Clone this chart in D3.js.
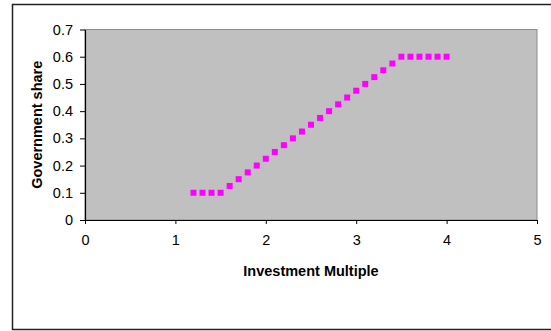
<!DOCTYPE html>
<html><head><meta charset="utf-8">
<script src="https://cdn.jsdelivr.net/npm/d3@7"></script>
<style>body{margin:0;background:#fff;overflow:hidden}svg{display:block}</style>
</head><body>
<script>
const xValues = [1.2,1.3,1.4,1.5,1.6,1.7,1.8,1.9,2.0,2.1,2.2,2.3,2.4,2.5,2.6,2.7,2.8,2.9,3.0,3.1,3.2,3.3,3.4,3.5,3.6,3.7,3.8,3.9,4.0];
const govShare = [0.1,0.1,0.1,0.1,0.125,0.15,0.175,0.2,0.225,0.25,0.275,0.3,0.325,0.35,0.375,0.4,0.425,0.45,0.475,0.5,0.525,0.55,0.575,0.6,0.6,0.6,0.6,0.6,0.6];
const xTicks = [0,1,2,3,4,5];
const yTicks = [0,0.1,0.2,0.3,0.4,0.5,0.6,0.7];
const xTitle = "Investment Multiple";
const yTitle = "Government share";

const W = 551, H = 331;
const svg = d3.select("body").append("svg").attr("width", W).attr("height", H);
const font = "'Liberation Sans', Arial, sans-serif";
const fs = 14.5;

// outer chart border (right edge lies outside the visible area)
svg.append("rect").attr("x", 12.5).attr("y", 4.5).attr("width", 600).attr("height", 325)
  .attr("fill", "#fff").attr("stroke", "#222").attr("stroke-width", 1.5);

const L = 85, R = 537, T = 29.5, B = 220;
const x = d3.scaleLinear().domain([0,5]).range([L,R]);
const y = d3.scaleLinear().domain([0,0.7]).range([B,T]);

svg.append("rect").attr("x", L).attr("y", T).attr("width", R-L).attr("height", B-T)
  .attr("fill", "#c0c0c0").attr("stroke", "#8c8c8c").attr("stroke-width", 1);

const xAxis = svg.append("g").attr("transform", `translate(0,${B})`)
  .call(d3.axisBottom(x).tickValues(xTicks).tickFormat(d3.format("d")).tickSizeInner(4).tickSizeOuter(0).tickPadding(11));
const yAxis = svg.append("g").attr("transform", `translate(${L},0)`)
  .call(d3.axisLeft(y).tickValues(yTicks).tickFormat(d => d === 0 ? "0" : d3.format(".1f")(d)).tickSizeInner(5).tickSizeOuter(0).tickPadding(7));
[xAxis, yAxis].forEach(g => {
  g.selectAll("path").attr("stroke", "#000").attr("stroke-width", 1.2);
  g.selectAll("line").attr("stroke", "#000");
  g.selectAll("text").attr("font-family", font).attr("font-size", fs).attr("fill", "#000");
});

svg.append("g").selectAll("rect").data(xValues).join("rect")
  .attr("x", (d,i) => x(d) - 3).attr("y", (d,i) => y(govShare[i]) - 3)
  .attr("width", 6).attr("height", 6).attr("fill", "#ff00ff");

svg.append("text").attr("x", (L+R)/2).attr("y", 276).attr("text-anchor", "middle")
  .attr("font-family", font).attr("font-size", fs).attr("font-weight", "bold").text(xTitle);
svg.append("text").attr("transform", `translate(42,${(T+B)/2}) rotate(-90)`).attr("text-anchor", "middle")
  .attr("font-family", font).attr("font-size", fs).attr("font-weight", "bold").text(yTitle);
</script>
</body></html>
